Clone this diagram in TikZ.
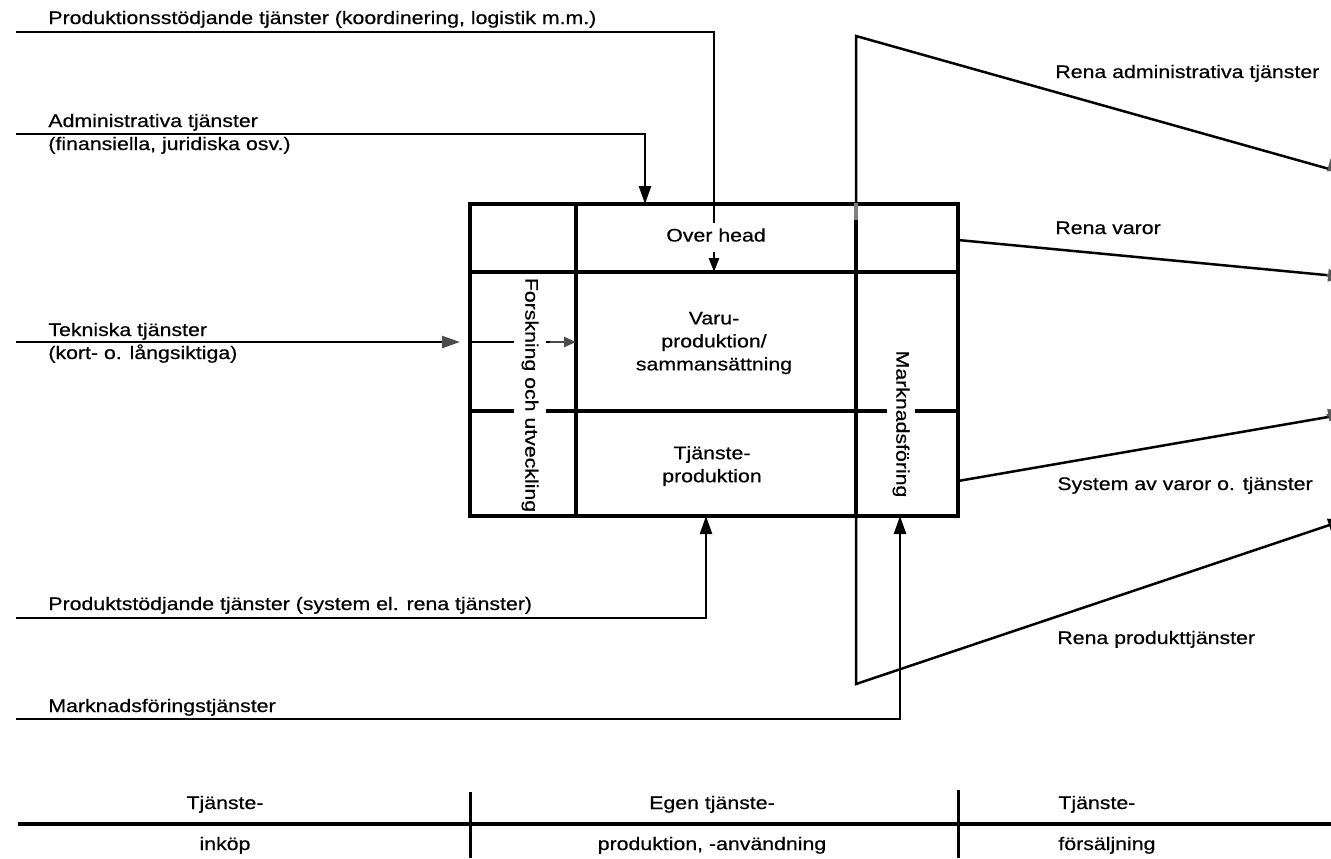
\documentclass[tikz,border=0pt]{standalone}
\usepackage{fontspec}
\setmainfont[FakeStretch=1.17,FakeBold=0.5]{Liberation Sans}
\usetikzlibrary{arrows.meta,calc}
\begin{document}
\begin{tikzpicture}[x=0.5pt,y=-0.5pt,
  font=\fontsize{9.1}{11.5}\selectfont,
  ln/.style={line width=1.25pt, line cap=butt},
  bx/.style={line width=1.8pt},
  arr/.style={ln,-{Triangle[length=9pt,width=6pt]}},
  sarr/.style={ln,-{Triangle[length=7pt,width=5pt]}},
  edgearr/.style={ln,-{Triangle[length=9pt,width=6pt]}},
  lab/.style={inner sep=0pt,anchor=base west},
  clab/.style={inner sep=0pt,anchor=base},
  cell/.style={inner sep=0pt,align=center},
  rot/.style={rotate=-90,fill=white,inner xsep=0pt},
]
\useasboundingbox (0,0) rectangle (1331,858);

% ---------- main box ----------
\coordinate (bNW) at (470,204);
\coordinate (bSE) at (958,516);
\draw[bx] (bNW) rectangle (bSE);
\coordinate (h1l) at (470,272); \coordinate (h1r) at (958,272);
\coordinate (h2l) at (470,411); \coordinate (h2r) at (958,411);
\coordinate (v1t) at (576,204); \coordinate (v1b) at (576,516);
\coordinate (v2t) at (856,204); \coordinate (v2b) at (856,516);
\draw[bx] (h1l) -- (h1r);
\draw[bx] (h2l) -- (h2r);
\draw[bx] (v1t) -- (v1b);
\draw[bx] (v2t) -- (v2b);

% ---------- funnel on the right ----------
\coordinate (fTop) at (856,36);
\coordinate (fBot) at (856,684);
\coordinate (fTR) at (1346,170);
\coordinate (fBR) at (1346,519);
\coordinate (vOut) at (958,240);
\coordinate (vR) at (1346,277);
\coordinate (sOut) at (958,481);
\coordinate (sR) at (1346,412);
\draw[ln,line join=miter] (1331,169.5) -- (fTop) -- (fBot) -- (1331,524.5);
\draw[ln] (vOut) -- (1331,275.5);
\draw[ln] (sOut) -- (1331,416.5);
\draw[edgearr,gray!70!black] ($(fTop)!0.97!(fTR)$) -- (fTR);
\draw[edgearr,gray!70!black] ($(vOut)!0.95!(vR)$) -- (vR);
\draw[edgearr,gray!70!black] ($(sOut)!0.95!(sR)$) -- (sR);
\draw[edgearr] ($(fBot)!0.97!(fBR)$) -- (fBR);
\draw[line width=2pt,gray] (856,203) -- (856,220);

% ---------- input lines ----------
\coordinate (p1s) at (16,32);  \coordinate (p1c) at (714,32);  \coordinate (p1e) at (714,223);
\draw[ln] (p1s) -- (p1c) -- (p1e);
\coordinate (p1a) at (714,252); \coordinate (p1t) at (714,272);
\draw[sarr] (p1a) -- (p1t);

\coordinate (p2s) at (16,134); \coordinate (p2c) at (645,134); \coordinate (p2t) at (645,204);
\draw[arr] (p2s) -- (p2c) -- (p2t);

\coordinate (p3s) at (16,342); \coordinate (p3t) at (460,342);
\draw[arr,-{Triangle[length=9pt,width=6pt,color=gray!60!black]}] (p3s) -- (p3t);
\coordinate (p3i) at (470,342); \coordinate (p3j) at (550,342); \coordinate (p3k) at (576,342);
\draw[ln] (p3i) -- (p3j);
\draw[ln,gray!60!black,-{Triangle[length=6pt,width=5pt]}] (p3j) -- (p3k);

\coordinate (p4s) at (16,618); \coordinate (p4c) at (706,618); \coordinate (p4t) at (706,516);
\draw[arr] (p4s) -- (p4c) -- (p4t);

\coordinate (p5s) at (16,719); \coordinate (p5c) at (900,719); \coordinate (p5t) at (900,516);
\draw[arr] (p5s) -- (p5c) -- (p5t);

% ---------- box texts ----------
\node[cell] (oh) at (716,235) {Over head};
\node[cell] (varu) at (714,343) {Varu-\\produktion/\\sammansättning};
\node[cell] (tj) at (712,466) {Tjänste-\\produktion};
\node[rot,inner ysep=4pt] (fou) at (530,395) {Forskning och utveckling};
\node[rot,inner ysep=2.8pt] (mf) at (901,424) {Marknadsföring};

% ---------- left labels ----------
\node[lab] (l1) at (48,24) {Produktionsstödjande tjänster (koordinering, logistik m.m.)};
\node[lab] (l2) at (48,127) {Administrativa tjänster};
\node[lab] (l2b) at (48,150) {(finansiella, juridiska osv.)};
\node[lab] (l3) at (48,336) {Tekniska tjänster};
\node[lab] (l3b) at (48,359) {(kort- o. långsiktiga)};
\node[lab] (l4) at (48,610) {Produktstödjande tjänster (system el. rena tjänster)};
\node[lab] (l5) at (48,712) {Marknadsföringstjänster};

% ---------- right labels ----------
\node[lab] (r1) at (1055,78) {Rena administrativa tjänster};
\node[lab] (r2) at (1055,234) {Rena varor};
\node[lab] (r3) at (1057,490) {System av varor o. tjänster};
\node[lab] (r4) at (1057,644) {Rena produkttjänster};

% ---------- bottom timeline ----------
\coordinate (tl) at (18,824); \coordinate (tr) at (1331,824);
\draw[line width=2pt] (tl) -- (tr);
\coordinate (t1a) at (470,792); \coordinate (t1b) at (470,858);
\coordinate (t2a) at (958,790); \coordinate (t2b) at (958,858);
\draw[line width=1.5pt] (t1a) -- (t1b);
\draw[line width=1.5pt] (t2a) -- (t2b);
\node[clab] (b1) at (225,809) {Tjänste-};
\node[clab] (b1b) at (225,850) {inköp};
\node[clab] (b2) at (712,809) {Egen tjänste-};
\node[clab] (b2b) at (712,850) {produktion, -användning};
\node[lab] (b3) at (1058,809) {Tjänste-};
\node[lab] (b3b) at (1058,850) {försäljning};
\end{tikzpicture}
\end{document}
